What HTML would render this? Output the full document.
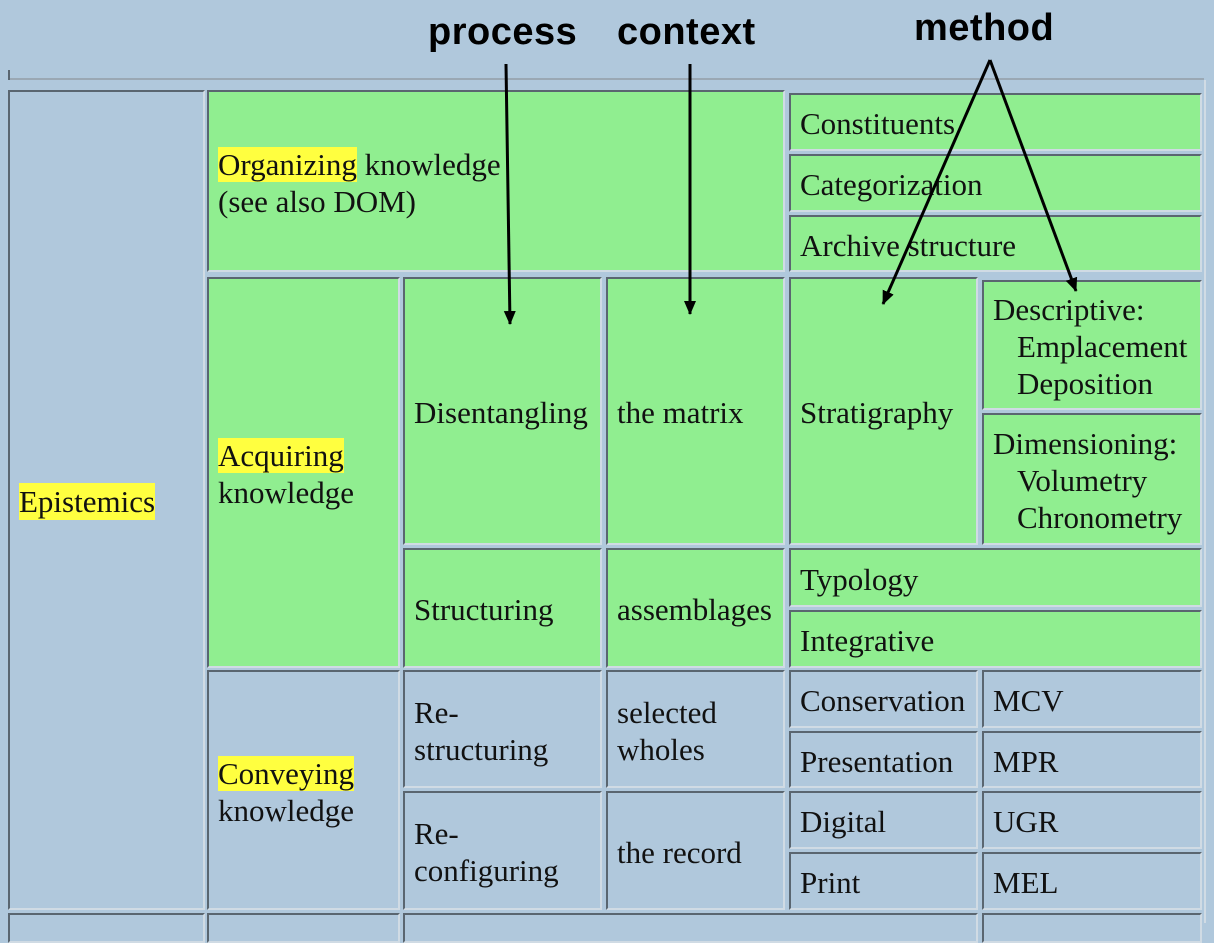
<!DOCTYPE html>
<html><head><meta charset="utf-8"><style>
body{margin:0;width:1214px;height:923px;background:#b0c8dc;position:relative;overflow:hidden;font-family:"Liberation Serif",serif;}
.c{position:absolute;box-sizing:border-box;border:2px solid;border-color:#5a6670 #d0dbe4 #d0dbe4 #5a6670;font-size:31px;color:#111;padding-left:9px;padding-top:3px;display:flex;align-items:center;line-height:37px;white-space:nowrap;}
.g{background:#90ee90;}
.h{background:#ffff40;}
.i{display:inline-block;margin-left:24px;}
.lab{position:absolute;font-family:"Liberation Sans",sans-serif;font-weight:bold;font-size:38px;color:#000;letter-spacing:0.5px;}
</style></head><body>
<div style="position:absolute;left:8px;top:78px;width:1196px;height:2px;background:#9aa8b4"></div>
<div style="position:absolute;left:8px;top:70px;width:2px;height:10px;background:#5a6670"></div>
<div style="position:absolute;left:1204px;top:80px;width:2px;height:843px;background:#d0dbe4"></div>

<div class="c" style="left:8px;top:90px;width:197px;height:820px"><span class="h">Epistemics</span></div>
<div class="c g" style="left:207px;top:90px;width:578px;height:182px"><div><span class="h">Organizing</span> knowledge<br>(see also DOM)</div></div>
<div class="c g" style="left:789px;top:93px;width:413px;height:58px">Constituents</div>
<div class="c g" style="left:789px;top:154px;width:413px;height:58px">Categorization</div>
<div class="c g" style="left:789px;top:215px;width:413px;height:57px">Archive structure</div>

<div class="c g" style="left:207px;top:277px;width:193px;height:391px"><div><span class="h">Acquiring</span><br>knowledge</div></div>
<div class="c g" style="left:403px;top:277px;width:199px;height:268px">Disentangling</div>
<div class="c g" style="left:606px;top:277px;width:179px;height:268px">the matrix</div>
<div class="c g" style="left:789px;top:277px;width:189px;height:268px">Stratigraphy</div>
<div class="c g" style="left:982px;top:280px;width:220px;height:130px"><div>Descriptive:<br><span class="i">Emplacement</span><br><span class="i">Deposition</span></div></div>
<div class="c g" style="left:982px;top:413px;width:220px;height:132px"><div>Dimensioning:<br><span class="i">Volumetry</span><br><span class="i">Chronometry</span></div></div>
<div class="c g" style="left:403px;top:548px;width:199px;height:120px">Structuring</div>
<div class="c g" style="left:606px;top:548px;width:179px;height:120px">assemblages</div>
<div class="c g" style="left:789px;top:548px;width:413px;height:59px">Typology</div>
<div class="c g" style="left:789px;top:610px;width:413px;height:58px">Integrative</div>

<div class="c" style="left:207px;top:670px;width:193px;height:240px"><div><span class="h">Conveying</span><br>knowledge</div></div>
<div class="c" style="left:403px;top:670px;width:199px;height:118px"><div>Re-<br>structuring</div></div>
<div class="c" style="left:606px;top:670px;width:179px;height:118px"><div>selected<br>wholes</div></div>
<div class="c" style="left:403px;top:791px;width:199px;height:119px"><div>Re-<br>configuring</div></div>
<div class="c" style="left:606px;top:791px;width:179px;height:119px">the record</div>
<div class="c" style="left:789px;top:670px;width:189px;height:58px">Conservation</div>
<div class="c" style="left:982px;top:670px;width:220px;height:58px">MCV</div>
<div class="c" style="left:789px;top:731px;width:189px;height:57px">Presentation</div>
<div class="c" style="left:982px;top:731px;width:220px;height:57px">MPR</div>
<div class="c" style="left:789px;top:791px;width:189px;height:58px">Digital</div>
<div class="c" style="left:982px;top:791px;width:220px;height:58px">UGR</div>
<div class="c" style="left:789px;top:852px;width:189px;height:58px">Print</div>
<div class="c" style="left:982px;top:852px;width:220px;height:58px">MEL</div>

<div class="c" style="left:8px;top:913px;width:197px;height:30px"></div>
<div class="c" style="left:207px;top:913px;width:193px;height:30px"></div>
<div class="c" style="left:403px;top:913px;width:575px;height:30px"></div>
<div class="c" style="left:982px;top:913px;width:220px;height:30px"></div>

<div class="lab" style="left:428px;top:11px">process</div>
<div class="lab" style="left:617px;top:11px">context</div>
<div class="lab" style="left:914px;top:7px">method</div>
<svg width="1214" height="923" style="position:absolute;left:0;top:0">
<defs><marker id="a" markerWidth="14" markerHeight="14" refX="13" refY="6" orient="auto" markerUnits="userSpaceOnUse"><path d="M0,0 L14,6 L0,12 z" fill="#000"/></marker></defs>
<g stroke="#000" stroke-width="3" fill="none">
<line x1="506" y1="64" x2="510" y2="324" marker-end="url(#a)"/>
<line x1="690" y1="64" x2="690" y2="314" marker-end="url(#a)"/>
<line x1="990" y1="60" x2="883" y2="304" marker-end="url(#a)"/>
<line x1="990" y1="60" x2="1076" y2="291" marker-end="url(#a)"/>
</g></svg>
</body></html>
